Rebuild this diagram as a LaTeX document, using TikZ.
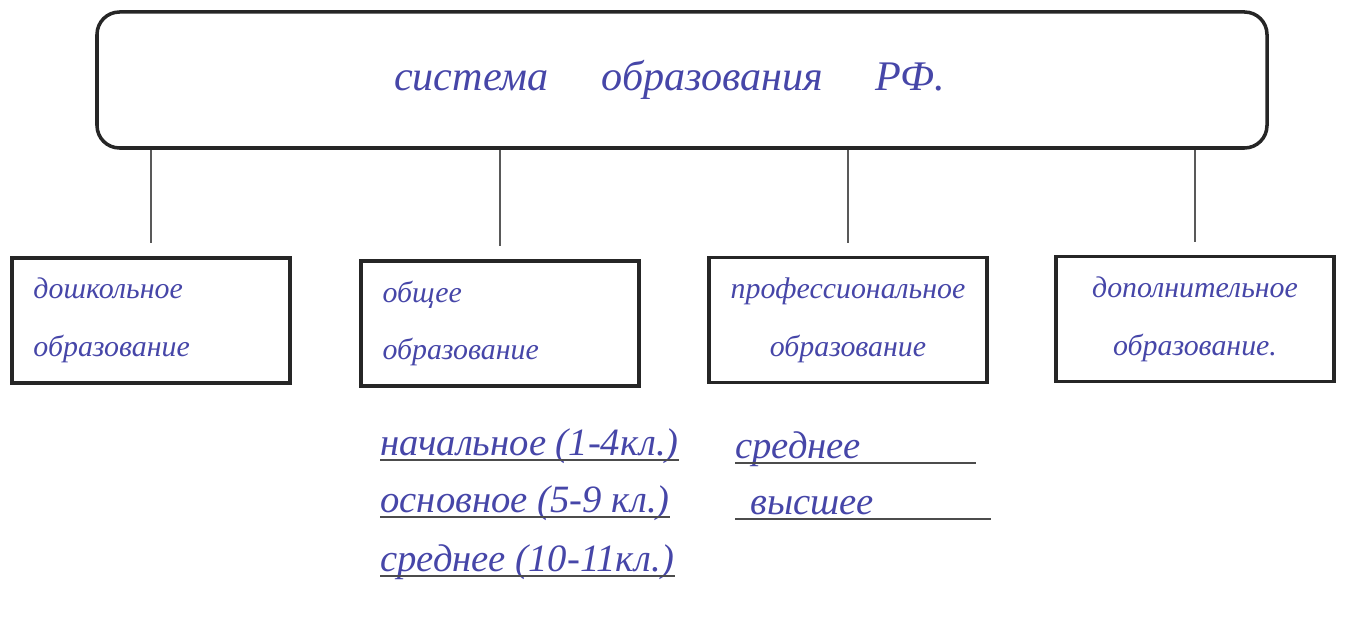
\documentclass[tikz,border=0pt]{standalone}
\usepackage{fontspec}
\setmainfont{Liberation Serif}
\usepackage{tikz}
\usetikzlibrary{calc}
\definecolor{ink}{RGB}{70,70,168}
\definecolor{frame}{RGB}{38,38,38}

\begin{document}
\begin{tikzpicture}[
      box/.style={draw=frame, line width=2pt, minimum width=5.56cm, minimum height=2.5cm,
        text width=4.7cm, text=ink, font=\itshape\fontsize{17}{33}\selectfont},
      link/.style={draw=black!65, line width=0.6pt, shorten >=0.26cm},
      item/.style={text=ink, font=\itshape\fontsize{22}{24}\selectfont, inner sep=0pt, anchor=base west},
      under/.style={draw=black!70, line width=0.9pt}]
      \useasboundingbox (0, 0) rectangle (26.98, 12.5);
      \node[draw=frame, line width=2pt, rounded corners=0.45cm, minimum width=23.4cm,
        minimum height=2.72cm, text=ink, font=\itshape\fontsize{24}{30}\selectfont]
        (system) at (13.64, 10.9) {система \quad образования \quad РФ.\hspace*{0.5cm}};
      \node[box, align=left] (preschool) at (3.02, 6.09) {дошкольное\\образование};
      \node[box, align=left] (general) at (10.0, 6.03) {общее\\образование};
      \node[box, align=center] (professional) at (16.96, 6.1) {профессиональное\\образование};
      \node[box, align=center] (additional) at (23.9, 6.12) {дополнительное\\образование.};
      \foreach \b in {preschool, general, professional, additional}
        \draw[link] (system.south -| \b.north) -- (\b.north);
      \node[item] (primary) at (7.6, 3.38) {начальное (1-4кл.)};
      \node[item] (basic) at (7.6, 2.24) {основное (5-9 кл.)};
      \node[item] (complete) at (7.6, 1.06) {среднее (10-11кл.)};
      \node[item, text width=4.8cm] (vocational) at (14.7, 3.32) {среднее};
      \node[item, text width=5.1cm] (higher) at (14.7, 2.2) {\hspace*{0.3cm}высшее};
      \foreach \n in {primary, basic, complete, vocational, higher}
        \draw[under] ([yshift=-0.08cm]\n.base west) -- ([yshift=-0.08cm]\n.base east);
    \end{tikzpicture}
\end{document}
